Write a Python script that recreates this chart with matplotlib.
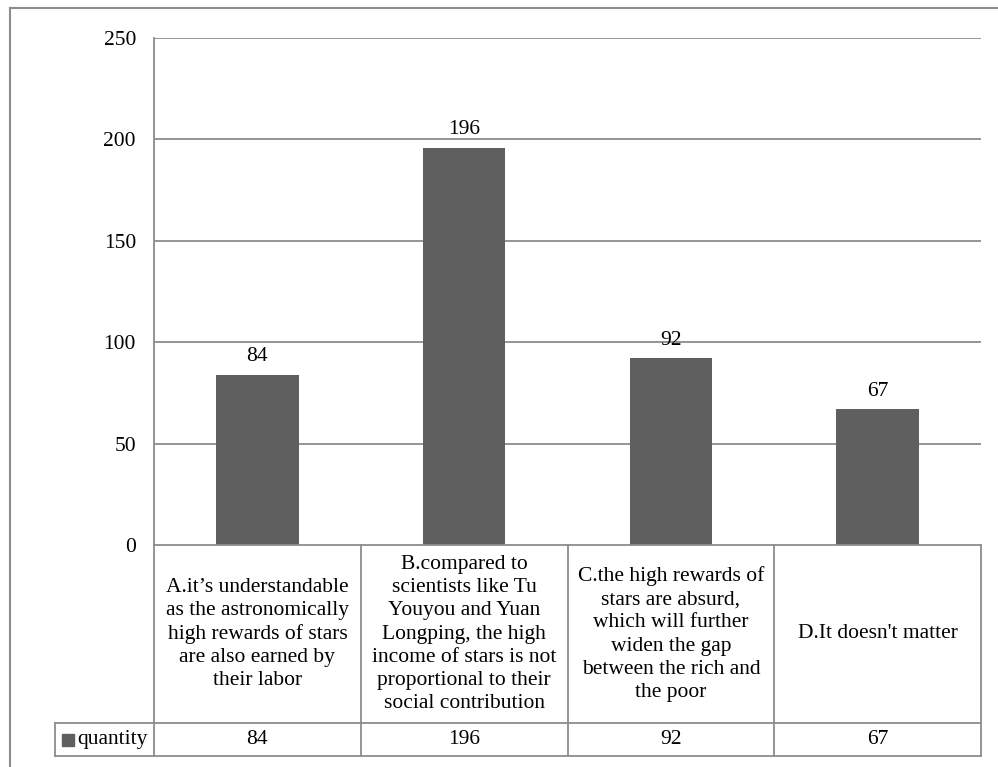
import matplotlib
matplotlib.use("Agg")
import matplotlib.pyplot as plt
from matplotlib.transforms import blended_transform_factory
from matplotlib.patches import Rectangle
from matplotlib.lines import Line2D

categories = [
    "A.it\u2019s understandable\nas the astronomically\nhigh rewards of stars\nare also earned by\ntheir labor",
    "B.compared to\nscientists like Tu\nYouyou and Yuan\nLongping, the high\nincome of stars is not\nproportional to their\nsocial contribution",
    "C.the high rewards of\nstars are absurd,\nwhich will further\nwiden the gap\nbetween the rich and\nthe poor",
    "D.It doesn't matter",
]
values = [84, 196, 92, 67]
series_name = "quantity"
yticks = [0, 50, 100, 150, 200, 250]

W, H = 998, 767
BAR = "#5f5f5f"
GRID = "#8c8c8c"
FS = 15.5
plt.rcParams['font.family'] = ['Liberation Serif', 'DejaVu Serif']

fig = plt.figure(figsize=(W / 100, H / 100), dpi=100)

def fx(px):
    return px / W

def fy(py):
    return 1 - py / H

left, right, top, zero = 154, 981, 38, 545
ax = fig.add_axes([fx(left), fy(zero), fx(right - left), fy(top) - fy(zero)])
x = list(range(len(values)))
ax.bar(x, values, width=0.4, color=BAR, zorder=3)
ax.set_xlim(-0.5, len(values) - 0.5)
ax.set_ylim(0, 250)
ax.set_yticks(yticks)
ax.set_yticklabels([str(t) for t in yticks], fontsize=FS)
ax.tick_params(axis='y', length=0, pad=13)
ax.set_xticks([])
for s in ['top', 'right', 'bottom']:
    ax.spines[s].set_visible(False)
ax.spines['left'].set_color(GRID)
ax.spines['left'].set_linewidth(1.3)
for t in yticks[1:]:
    ax.axhline(t, color=GRID, lw=1.3, zorder=1)
for xi, v in zip(x, values):
    ax.annotate(str(v), (xi, v), xytext=(0, 6), textcoords='offset points',
                ha='center', va='bottom', fontsize=FS)

# table
tr = blended_transform_factory(ax.transData, fig.transFigure)
row1_bot, row2_bot = 723, 756
leg_left = 55
n = len(values)
lkw = dict(color=GRID, lw=1.3, clip_on=False)
fig.add_artist(Line2D([fx(left), fx(right)], [fy(zero), fy(zero)], transform=fig.transFigure, **lkw))
fig.add_artist(Line2D([fx(leg_left), fx(right)], [fy(row1_bot), fy(row1_bot)], transform=fig.transFigure, **lkw))
fig.add_artist(Line2D([fx(leg_left), fx(right)], [fy(row2_bot), fy(row2_bot)], transform=fig.transFigure, **lkw))
for b in range(n + 1):
    fig.add_artist(Line2D([b - 0.5, b - 0.5], [fy(zero), fy(row2_bot)], transform=tr, **lkw))
fig.add_artist(Line2D([fx(leg_left), fx(leg_left)], [fy(row1_bot), fy(row2_bot)], transform=fig.transFigure, **lkw))

cat_mid = (zero + row1_bot) / 2
val_mid = (row1_bot + row2_bot) / 2
for xi, c, v in zip(x, categories, values):
    fig.text(xi, fy(cat_mid), c, transform=tr, ha='center', va='center',
             fontsize=FS, linespacing=1.3, multialignment='center')
    fig.text(xi, fy(val_mid), str(v), transform=tr, ha='center', va='center', fontsize=FS)

# legend cell
fig.add_artist(Rectangle((fx(62), fy(val_mid + 6)), fx(12), fy(0) - fy(12),
                         transform=fig.transFigure, color=BAR))
fig.text(fx(77), fy(val_mid), series_name, ha='left', va='center', fontsize=FS)

# outer frame
fig.add_artist(Line2D([fx(10), fx(10)], [fy(8), 0], transform=fig.transFigure, color=GRID, lw=1.5))
fig.add_artist(Line2D([fx(10), 1], [fy(8), fy(8)], transform=fig.transFigure, color=GRID, lw=1.5))

fig.savefig("out.png", dpi=100)
